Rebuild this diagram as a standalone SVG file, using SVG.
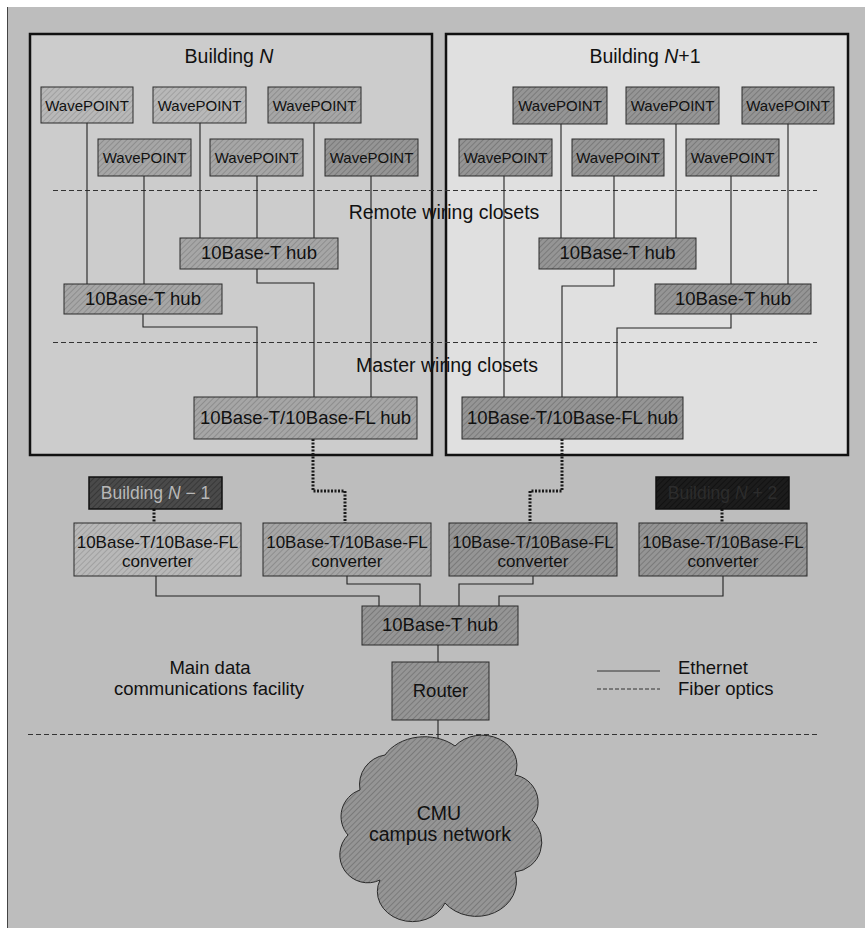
<svg xmlns="http://www.w3.org/2000/svg" width="865" height="928" viewBox="0 0 865 928">
<style>
text{font-family:'Liberation Sans',Arial,sans-serif;fill:#111;}
.wp{font-size:15px;text-anchor:middle;}
.lb{font-size:18.5px;text-anchor:middle;}
.cv{font-size:17px;text-anchor:middle;}
.big{font-size:19.5px;}
.sm{font-size:18.5px;}
.node{stroke:#2a2a2a;stroke-width:1;}
.eth{fill:none;stroke:#222;stroke-width:1.1;}
.fib{fill:none;stroke:#1a1a1a;stroke-width:3;stroke-dasharray:2 1.5;}
.sep{fill:none;stroke:#333;stroke-width:1;stroke-dasharray:5 3;}
.bld{stroke:#111;stroke-width:2.5;}
</style>
<defs>
<pattern id="hL" width="4" height="4" patternUnits="userSpaceOnUse" patternTransform="rotate(45)"><rect width="4" height="4" fill="#b8b8b8"/><line x1="0" y1="0" x2="0" y2="4" stroke="#939393" stroke-width="1.3"/></pattern>
<pattern id="hM" width="4" height="4" patternUnits="userSpaceOnUse" patternTransform="rotate(45)"><rect width="4" height="4" fill="#a6a6a6"/><line x1="0" y1="0" x2="0" y2="4" stroke="#808080" stroke-width="1.3"/></pattern>
<pattern id="hD" width="4" height="4" patternUnits="userSpaceOnUse" patternTransform="rotate(45)"><rect width="4" height="4" fill="#959595"/><line x1="0" y1="0" x2="0" y2="4" stroke="#6c6c6c" stroke-width="1.3"/></pattern>
<pattern id="hK" width="4" height="4" patternUnits="userSpaceOnUse" patternTransform="rotate(45)"><rect width="4" height="4" fill="#4a4a4a"/><line x1="0" y1="0" x2="0" y2="4" stroke="#2e2e2e" stroke-width="1.3"/></pattern>
<pattern id="hX" width="4" height="4" patternUnits="userSpaceOnUse" patternTransform="rotate(45)"><rect width="4" height="4" fill="#1c1c1c"/><line x1="0" y1="0" x2="0" y2="4" stroke="#0c0c0c" stroke-width="1.3"/></pattern>
</defs>

<rect x="0" y="0" width="865" height="928" fill="#ffffff"/>
<rect x="7" y="7" width="858" height="921" fill="#bdbdbd"/>
<line x1="7.5" y1="7" x2="7.5" y2="928" stroke="#444" stroke-width="1"/>

<g id="building-n">
<rect class="bld" x="30" y="34" width="402" height="421" fill="#cccccc"/>
<text class="big" x="229" y="63" text-anchor="middle">Building <tspan font-style="italic">N</tspan></text>
</g>
<g id="building-n1">
<rect class="bld" x="446" y="34" width="402" height="421" fill="#e0e0e0"/>
<text class="big" x="645" y="63" text-anchor="middle">Building <tspan font-style="italic">N</tspan>+1</text>
</g>

<g id="separators">
<line class="sep" x1="53" y1="190.5" x2="817" y2="190.5"/>
<line class="sep" x1="53" y1="342.5" x2="817" y2="342.5"/>
<line class="sep" x1="28" y1="734.5" x2="818" y2="734.5"/>
</g>

<g id="connectors">
<path class="eth" d="M87 123V284"/>
<path class="eth" d="M144 176V284"/>
<path class="eth" d="M200 123V238"/>
<path class="eth" d="M257 176V238"/>
<path class="eth" d="M314 123V238"/>
<path class="eth" d="M371 176V397"/>
<path class="eth" d="M257 269V283H314V397"/>
<path class="eth" d="M143 314V327H257V397"/>
<path class="eth" d="M561 124V238"/>
<path class="eth" d="M676 124V238"/>
<path class="eth" d="M788 124V284"/>
<path class="eth" d="M504 176V397"/>
<path class="eth" d="M614 176V238"/>
<path class="eth" d="M731 176V284"/>
<path class="eth" d="M614 269V286H562V397"/>
<path class="eth" d="M731 314V328H617V397"/>
<path class="fib" d="M313 439V491H345V523"/>
<path class="fib" d="M562 439V491H530V523"/>
<path class="fib" d="M154 509V523"/>
<path class="fib" d="M722 509V523"/>
<path class="eth" d="M156 576V596H379V606"/>
<path class="eth" d="M347 576V584H420V606"/>
<path class="eth" d="M533 576V584H459V606"/>
<path class="eth" d="M723 576V596H499V606"/>
<path class="eth" d="M438 645V662"/>
<path class="eth" d="M438 720V745"/>
</g>

<text class="big" x="444" y="219" text-anchor="middle">Remote wiring closets</text>
<text class="big" x="447" y="372" text-anchor="middle">Master wiring closets</text>

<g id="wp-n-1"><rect class="node" x="41" y="87" width="92" height="36" fill="url(#hL)"/><text class="wp" x="87" y="111">WavePOINT</text></g>
<g id="wp-n-2"><rect class="node" x="153" y="87" width="93" height="36" fill="url(#hL)"/><text class="wp" x="199.5" y="111">WavePOINT</text></g>
<g id="wp-n-3"><rect class="node" x="268" y="87" width="93" height="36" fill="url(#hM)"/><text class="wp" x="314.5" y="111">WavePOINT</text></g>
<g id="wp-n-4"><rect class="node" x="98" y="139" width="93" height="37" fill="url(#hM)"/><text class="wp" x="144.5" y="163">WavePOINT</text></g>
<g id="wp-n-5"><rect class="node" x="210" y="139" width="93" height="37" fill="url(#hM)"/><text class="wp" x="256.5" y="163">WavePOINT</text></g>
<g id="wp-n-6"><rect class="node" x="325" y="139" width="93" height="37" fill="url(#hD)"/><text class="wp" x="371.5" y="163">WavePOINT</text></g>
<g id="hub-n-1"><rect class="node" x="180" y="238" width="158" height="31" fill="url(#hM)"/><text class="lb" x="259" y="259">10Base-T hub</text></g>
<g id="hub-n-2"><rect class="node" x="64" y="284" width="158" height="30" fill="url(#hM)"/><text class="lb" x="143" y="305">10Base-T hub</text></g>
<g id="master-n"><rect class="node" x="194" y="397" width="223" height="42" fill="url(#hM)"/><text class="lb" x="305.5" y="424">10Base-T/10Base-FL hub</text></g>

<g id="wp-n1-1"><rect class="node" x="513" y="87" width="94" height="37" fill="url(#hD)"/><text class="wp" x="560" y="111">WavePOINT</text></g>
<g id="wp-n1-2"><rect class="node" x="626" y="87" width="93" height="37" fill="url(#hD)"/><text class="wp" x="672.5" y="111">WavePOINT</text></g>
<g id="wp-n1-3"><rect class="node" x="742" y="87" width="92" height="37" fill="url(#hD)"/><text class="wp" x="788" y="111">WavePOINT</text></g>
<g id="wp-n1-4"><rect class="node" x="459" y="139" width="93" height="37" fill="url(#hD)"/><text class="wp" x="505.5" y="163">WavePOINT</text></g>
<g id="wp-n1-5"><rect class="node" x="572" y="139" width="92" height="37" fill="url(#hD)"/><text class="wp" x="618" y="163">WavePOINT</text></g>
<g id="wp-n1-6"><rect class="node" x="686" y="139" width="93" height="37" fill="url(#hD)"/><text class="wp" x="732.5" y="163">WavePOINT</text></g>
<g id="hub-n1-1"><rect class="node" x="539" y="238" width="157" height="31" fill="url(#hD)"/><text class="lb" x="617.5" y="259">10Base-T hub</text></g>
<g id="hub-n1-2"><rect class="node" x="655" y="284" width="156" height="30" fill="url(#hD)"/><text class="lb" x="733" y="305">10Base-T hub</text></g>
<g id="master-n1"><rect class="node" x="462" y="397" width="221" height="42" fill="url(#hD)"/><text class="lb" x="572.5" y="424">10Base-T/10Base-FL hub</text></g>

<g id="building-n-minus-1"><rect x="89" y="477" width="133" height="32" fill="url(#hK)" stroke="#111" stroke-width="1.5"/><text x="155.5" y="499" text-anchor="middle" font-size="17.5" style="fill:#b8b8b8">Building <tspan font-style="italic">N</tspan> − 1</text></g>
<g id="building-n-plus-2"><rect x="656" y="477" width="133" height="32" fill="url(#hX)" stroke="#111" stroke-width="1.5"/><text x="722.5" y="499" text-anchor="middle" font-size="17.5" style="fill:#2c2c2c">Building <tspan font-style="italic">N</tspan> + 2</text></g>

<g id="conv-1"><rect class="node" x="74" y="523" width="167" height="53" fill="url(#hL)"/><text class="cv" x="157.5" y="548">10Base-T/10Base-FL</text><text class="cv" x="157.5" y="567">converter</text></g>
<g id="conv-2"><rect class="node" x="263" y="523" width="168" height="53" fill="url(#hM)"/><text class="cv" x="347" y="548">10Base-T/10Base-FL</text><text class="cv" x="347" y="567">converter</text></g>
<g id="conv-3"><rect class="node" x="449" y="523" width="168" height="53" fill="url(#hD)"/><text class="cv" x="533" y="548">10Base-T/10Base-FL</text><text class="cv" x="533" y="567">converter</text></g>
<g id="conv-4"><rect class="node" x="639" y="523" width="168" height="53" fill="url(#hD)"/><text class="cv" x="723" y="548">10Base-T/10Base-FL</text><text class="cv" x="723" y="567">converter</text></g>

<g id="main-hub"><rect class="node" x="362" y="606" width="156" height="39" fill="url(#hD)"/><text class="lb" x="440" y="631">10Base-T hub</text></g>
<g id="router"><rect class="node" x="392" y="662" width="97" height="58" fill="url(#hD)"/><text class="lb" x="440.5" y="697">Router</text></g>

<g id="cloud"><path class="node" fill="url(#hD)" d="M360 790A30 30 0 0 1 385 755A45 35 0 0 1 455 746A35 30 0 0 1 515 775A28 28 0 0 1 532 820A30 30 0 0 1 515 872A40 35 0 0 1 445 903A35 30 0 0 1 380 880A28 28 0 0 1 348 835A28 28 0 0 1 360 790Z"/><text class="big" x="439" y="820" text-anchor="middle">CMU</text><text class="big" x="440" y="841" text-anchor="middle">campus network</text></g>

<g id="facility-label"><text class="sm" x="210" y="674" text-anchor="middle">Main data</text><text class="sm" x="209" y="695" text-anchor="middle">communications facility</text></g>

<g id="legend">
<line x1="597" y1="671" x2="660" y2="671" stroke="#333" stroke-width="1"/>
<line x1="597" y1="689" x2="660" y2="689" stroke="#333" stroke-width="1" stroke-dasharray="4 2"/>
<text class="sm" x="678" y="674">Ethernet</text>
<text class="sm" x="678" y="695">Fiber optics</text>
</g>
</svg>
